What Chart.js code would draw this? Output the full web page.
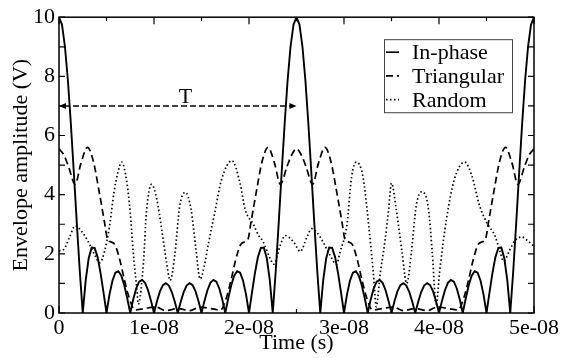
<!DOCTYPE html>
<html lang="en">
<head>
<meta charset="UTF-8" />
<title>Envelope amplitude vs time</title>
<style>
  body { margin: 0; padding: 0; background: #fff; }
  #wrap { width: 574px; height: 358px; }
</style>
</head>
<body>
<div id="wrap"><canvas id="chart" width="574" height="358"></canvas></div>

<script src="https://cdn.jsdelivr.net/npm/chart.js"></script>
<script>
  // times are in ns, converted to seconds when the datasets are built
  const timeInPhase = [
    0, 0.3125, 0.625, 0.9375, 1.25, 1.5625, 1.875, 2.1875, 2.5, 2.8125, 3.125, 3.4375, 3.75, 4.0625, 4.375, 4.6875,
    5, 5.3125, 5.625, 5.9375, 6.25, 6.5625, 6.875, 7.1875, 7.5, 7.8125, 8.125, 8.4375, 8.75, 9.0625, 9.375, 9.6875,
    10, 10.3125, 10.625, 10.9375, 11.25, 11.5625, 11.875, 12.1875, 12.5, 12.8125, 13.125, 13.4375, 13.75, 14.0625, 14.375, 14.6875,
    15, 15.3125, 15.625, 15.9375, 16.25, 16.5625, 16.875, 17.1875, 17.5, 17.8125, 18.125, 18.4375, 18.75, 19.0625, 19.375, 19.6875,
    20, 20.3125, 20.625, 20.9375, 21.25, 21.5625, 21.875, 22.1875, 22.5, 22.8125, 23.125, 23.4375, 23.75, 24.0625, 24.375, 24.6875,
    25, 25.3125, 25.625, 25.9375, 26.25, 26.5625, 26.875, 27.1875, 27.5, 27.8125, 28.125, 28.4375, 28.75, 29.0625, 29.375, 29.6875,
    30, 30.3125, 30.625, 30.9375, 31.25, 31.5625, 31.875, 32.1875, 32.5, 32.8125, 33.125, 33.4375, 33.75, 34.0625, 34.375, 34.6875,
    35, 35.3125, 35.625, 35.9375, 36.25, 36.5625, 36.875, 37.1875, 37.5, 37.8125, 38.125, 38.4375, 38.75, 39.0625, 39.375, 39.6875,
    40, 40.3125, 40.625, 40.9375, 41.25, 41.5625, 41.875, 42.1875, 42.5, 42.8125, 43.125, 43.4375, 43.75, 44.0625, 44.375, 44.6875,
    45, 45.3125, 45.625, 45.9375, 46.25, 46.5625, 46.875, 47.1875, 47.5, 47.8125, 48.125, 48.4375, 48.75, 49.0625, 49.375, 49.6875,
    50
  ];
  const inPhase = [
    10, 9.75, 9.01, 7.86, 6.39, 4.74, 3.03, 1.41, 0, 1.11, 1.85, 2.21, 2.20, 1.89, 1.35, 0.69,
    0, 0.62, 1.09, 1.36, 1.41, 1.26, 0.93, 0.49, 0, 0.46, 0.83, 1.06, 1.12, 1.02, 0.77, 0.41,
    0, 0.40, 0.73, 0.94, 1.01, 0.93, 0.71, 0.38, 0, 0.38, 0.71, 0.93, 1.01, 0.94, 0.73, 0.40,
    0, 0.41, 0.77, 1.02, 1.12, 1.06, 0.83, 0.46, 0, 0.49, 0.93, 1.26, 1.41, 1.36, 1.09, 0.62,
    0, 0.69, 1.35, 1.89, 2.20, 2.21, 1.85, 1.11, 0, 1.41, 3.03, 4.74, 6.39, 7.86, 9.01, 9.75,
    10, 9.75, 9.01, 7.86, 6.39, 4.74, 3.03, 1.41, 0, 1.11, 1.85, 2.21, 2.20, 1.89, 1.35, 0.69,
    0, 0.62, 1.09, 1.36, 1.41, 1.26, 0.93, 0.49, 0, 0.46, 0.83, 1.06, 1.12, 1.02, 0.77, 0.41,
    0, 0.40, 0.73, 0.94, 1.01, 0.93, 0.71, 0.38, 0, 0.38, 0.71, 0.93, 1.01, 0.94, 0.73, 0.40,
    0, 0.41, 0.77, 1.02, 1.12, 1.06, 0.83, 0.46, 0, 0.49, 0.93, 1.26, 1.41, 1.36, 1.09, 0.62,
    0, 0.69, 1.35, 1.89, 2.20, 2.21, 1.85, 1.11, 0, 1.41, 3.03, 4.74, 6.39, 7.86, 9.01, 9.75,
    10
  ];

  const timeTriangular = [
    0, 0.5, 1.0, 1.7, 2.3, 3.0, 3.6, 4.2, 4.8, 5.1, 5.5, 5.9, 6.4, 6.9, 7.4, 8.0, 9.0, 10.2, 11.2, 12.5,
    13.8, 14.8, 16.0, 17.0, 17.6, 18.1, 18.6, 19.1, 19.5, 19.9, 20.2, 20.8, 21.4, 22.0, 22.7, 23.3, 24.0, 24.5, 25.0,
    25.5, 26.0, 26.7, 27.3, 28.0, 28.6, 29.2, 29.8, 30.1, 30.5, 30.9, 31.4, 31.9, 32.4, 33.0, 34.0, 35.2, 36.2, 37.5,
    38.8, 39.8, 41.0, 42.0, 42.6, 43.1, 43.6, 44.1, 44.5, 44.9, 45.2, 45.8, 46.4, 47.0, 47.7, 48.3, 49.0, 49.5, 50.0
  ];
  const triangular = [
    5.55, 5.35, 4.95, 4.35, 5.05, 5.6, 5.15, 4.15, 3.05, 2.5, 2.4, 2.3, 1.8, 1.1, 0.5, 0.1, 0.15, 0.2, 0.08, 0.15,
    0.08, 0.2, 0.15, 0.1, 0.5, 1.1, 1.8, 2.3, 2.4, 2.5, 3.05, 4.15, 5.15, 5.6, 5.05, 4.35, 4.95, 5.35, 5.55,
    5.35, 4.95, 4.35, 5.05, 5.6, 5.15, 4.15, 3.05, 2.5, 2.4, 2.3, 1.8, 1.1, 0.5, 0.1, 0.15, 0.2, 0.08, 0.15,
    0.08, 0.2, 0.15, 0.1, 0.5, 1.1, 1.8, 2.3, 2.4, 2.5, 3.05, 4.15, 5.15, 5.6, 5.05, 4.35, 4.95, 5.35, 5.55
  ];

  const timeRandom = [
    0, 0.5, 1.1, 1.7, 2.4, 3.1, 3.7, 4.3, 4.8, 5.3, 5.8, 6.2, 6.6, 7.1, 7.5, 7.8, 8.2, 8.35, 8.9, 9.2,
    9.75, 10.3, 10.8, 11.3, 11.7, 12.2, 12.7, 13.3, 13.9, 14.4, 14.85, 15.3, 15.7, 16.4, 17.1, 18.2, 19.05, 19.6, 20.45, 21.0,
    21.5, 22.2, 22.6, 23.3, 23.8, 24.7, 25.4, 26.1, 26.6, 27.2, 27.8, 28.5, 29.2, 29.6, 30.3, 30.8, 31.3, 32.0, 32.6, 33.1,
    33.4, 33.8, 34.3, 34.7, 35.0, 35.5, 36.1, 36.6, 37.1, 37.6, 38.2, 38.9, 39.3, 39.7, 40.1, 40.8, 41.6, 42.7, 43.5, 44.2,
    45.0, 45.9, 46.4, 46.8, 47.4, 48.0, 48.7, 49.3, 50.0
  ];
  const random = [
    2.1, 2.15, 2.55, 2.95, 2.75, 2.4, 2.0, 1.7, 2.1, 2.9, 4.1, 4.75, 5.1, 4.5, 3.4, 2.1, 0.8, 0.3, 1.75, 3.4,
    4.35, 3.84, 2.85, 1.75, 1.1, 2.0, 3.6, 4.08, 3.5, 2.2, 1.15, 1.6, 2.3, 3.4, 4.5, 5.15, 4.4, 3.5, 3.0, 2.63,
    2.4, 1.86, 1.65, 2.3, 2.62, 2.4, 2.08, 2.57, 2.85, 2.7, 2.4, 1.97, 1.65, 2.08, 2.96, 4.6, 5.1, 4.6, 2.96, 1.31,
    0.21, 1.3, 2.4, 3.5, 4.39, 3.5, 2.08, 1.0, 2.08, 3.62, 4.1, 3.5, 2.0, 0.3, 1.5, 3.2, 4.5, 5.1, 4.6, 3.7,
    3.07, 2.6, 2.1, 1.75, 2.1, 2.45, 2.57, 2.45, 2.25
  ];

  const seriesNames = ['In-phase', 'Triangular', 'Random'];
  const xTickLabels = ['0', '1e-08', '2e-08', '3e-08', '4e-08', '5e-08'];
  const yTickLabels = ['0', '2', '4', '6', '8', '10'];
  const periodSpan = [0, 25];   // ns, the "T" arrow
  const periodLevel = 7;

  const serif = "'Liberation Serif', 'Times New Roman', serif";
  const dashes = [[], [7, 4], [1.5, 2.5]];

  function toPoints(times, vals) {
    return times.map((t, i) => ({ x: t * 1e-9, y: vals[i] }));
  }

  // frame, inward ticks, period arrow and boxed legend
  const decorations = {
    id: 'decorations',
    afterDatasetsDraw(chart) {
      const { ctx, chartArea: a, scales: { x, y } } = chart;
      ctx.save();
      ctx.strokeStyle = '#000';
      ctx.fillStyle = '#000';

      ctx.lineWidth = 1.5;
      ctx.strokeRect(a.left, a.top, a.right - a.left, a.bottom - a.top);

      ctx.lineWidth = 1.2;
      ctx.beginPath();
      for (let i = 0; i <= 10; i++) {
        const px = x.getPixelForValue(i * 0.5e-8);
        const len = i % 2 === 0 ? 7 : 4;
        ctx.moveTo(px, a.bottom); ctx.lineTo(px, a.bottom - len);
        ctx.moveTo(px, a.top); ctx.lineTo(px, a.top + len);
      }
      for (let v = 0; v <= 10; v++) {
        const py = y.getPixelForValue(v);
        ctx.moveTo(a.left, py); ctx.lineTo(a.left + 6, py);
        ctx.moveTo(a.right, py); ctx.lineTo(a.right - 6, py);
      }
      ctx.stroke();

      // T arrow
      const x0 = x.getPixelForValue(periodSpan[0] * 1e-9);
      const x1 = x.getPixelForValue(periodSpan[1] * 1e-9);
      const ay = y.getPixelForValue(periodLevel);
      ctx.lineWidth = 1.5;
      ctx.setLineDash([6, 3]);
      ctx.beginPath();
      ctx.moveTo(x0 + 5, ay); ctx.lineTo(x1 - 5, ay);
      ctx.stroke();
      ctx.setLineDash([]);
      ctx.beginPath();
      ctx.moveTo(x0, ay); ctx.lineTo(x0 + 7, ay - 3); ctx.lineTo(x0 + 7, ay + 3); ctx.closePath();
      ctx.moveTo(x1, ay); ctx.lineTo(x1 - 7, ay - 3); ctx.lineTo(x1 - 7, ay + 3); ctx.closePath();
      ctx.fill();
      ctx.font = '22px ' + serif;
      ctx.textAlign = 'center';
      ctx.textBaseline = 'alphabetic';
      ctx.fillText('T', x.getPixelForValue(13.3e-9), ay - 3);

      // legend
      const bx = a.right - 150, by = a.top + 22;
      ctx.lineWidth = 1;
      ctx.strokeStyle = '#444';
      ctx.strokeRect(bx + 0.5, by + 0.5, 128, 73);
      ctx.strokeStyle = '#000';
      ctx.textAlign = 'left';
      seriesNames.forEach((name, i) => {
        const base = by + 20 + i * 23.7;
        ctx.lineWidth = 1.6;
        ctx.setLineDash(dashes[i]);
        ctx.beginPath();
        ctx.moveTo(bx + 2, base - 7); ctx.lineTo(bx + 15, base - 7);
        ctx.stroke();
        ctx.setLineDash([]);
        ctx.fillText(name, bx + 28, base);
      });
      ctx.restore();
    }
  };

  new Chart(document.getElementById('chart'), {
    type: 'line',
    data: {
      datasets: [
        { label: seriesNames[0], data: toPoints(timeInPhase, inPhase), borderColor: '#000', borderWidth: 1.9,
          borderDash: dashes[0], pointRadius: 0, tension: 0 },
        { label: seriesNames[1], data: toPoints(timeTriangular, triangular), borderColor: '#000', borderWidth: 1.7,
          borderDash: dashes[1], pointRadius: 0, cubicInterpolationMode: 'monotone' },
        { label: seriesNames[2], data: toPoints(timeRandom, random), borderColor: '#000', borderWidth: 1.7,
          borderDash: dashes[2], pointRadius: 0, cubicInterpolationMode: 'monotone' }
      ]
    },
    options: {
      responsive: false,
      animation: false,
      devicePixelRatio: 1,
      layout: { padding: { top: 10, right: 40, left: 0, bottom: 0 } },
      plugins: { legend: { display: false }, tooltip: { enabled: false } },
      scales: {
        x: {
          type: 'linear', min: 0, max: 5e-8,
          ticks: {
            stepSize: 1e-8, autoSkip: false, maxRotation: 0, padding: 2, color: '#000',
            font: { family: serif, size: 22 },
            callback: (v, i) => xTickLabels[i]
          },
          grid: { display: false, drawTicks: false },
          border: { display: false },
          title: { display: true, text: 'Time (s)', color: '#000', font: { family: serif, size: 22 }, padding: { top: 0, bottom: 2 } },
          afterFit: s => { s.height = 45; }
        },
        y: {
          min: 0, max: 10,
          ticks: {
            stepSize: 2, padding: 4, color: '#000',
            font: { family: serif, size: 22 },
            callback: (v, i) => yTickLabels[i]
          },
          grid: { display: false, drawTicks: false },
          border: { display: false },
          title: { display: true, text: 'Envelope amplitude (V)', color: '#000', font: { family: serif, size: 22 }, padding: { top: 8, bottom: 0 } },
          afterFit: s => { s.width = 59; }
        }
      }
    },
    plugins: [decorations]
  });
</script>
</body>
</html>
